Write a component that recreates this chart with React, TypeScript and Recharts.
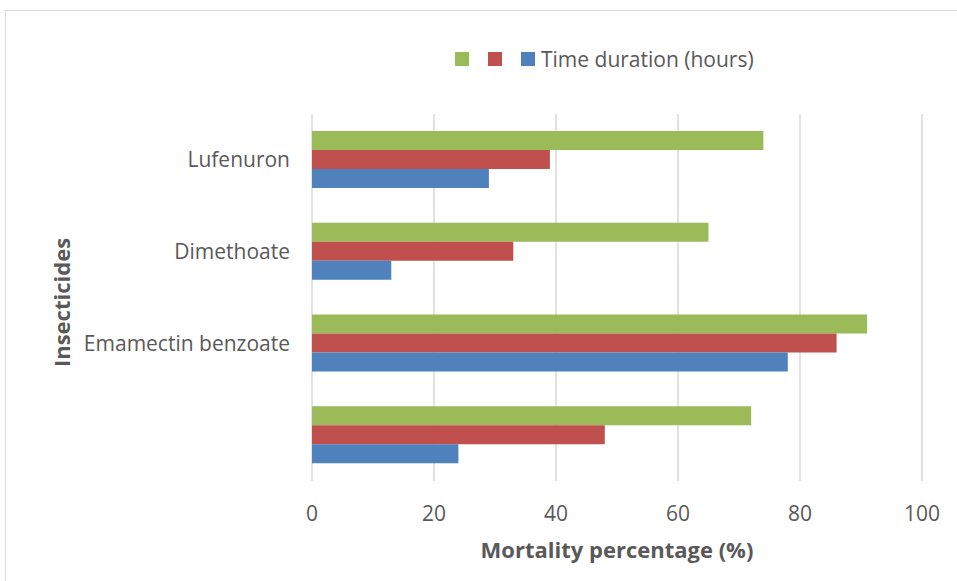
import React from 'react';
import { BarChart, Bar, XAxis, YAxis, CartesianGrid, Legend } from 'recharts';

const insecticides = ['Lufenuron', 'Dimethoate', 'Emamectin benzoate', ''];
const seriesGreen = [74, 65, 91, 72];
const seriesRed = [39, 33, 86, 48];
const seriesBlue = [29, 13, 78, 24];
const xTicks = [0, 20, 40, 60, 80, 100];
const seriesColors = ['#9BBB59', '#C0504D', '#4F81BD'];
const legendLabels = ['', '', 'Time duration (hours)'];

const data = insecticides.map((name, i) => ({
  name,
  green: seriesGreen[i],
  red: seriesRed[i],
  blue: seriesBlue[i],
}));

const FONT = '"Open Sans", Lato, sans-serif';
const TEXT = '#595959';

// legend drawn from our own arrays so the order stays green, red, blue
const LegendContent = () => (
  <div style={{ display: 'flex', alignItems: 'center', fontFamily: FONT, fontSize: 21, color: TEXT }}>
    {seriesColors.map((color, i) => (
      <div key={`leg-${i}`} style={{ display: 'flex', alignItems: 'center', marginRight: legendLabels[i] ? 0 : 19 }}>
        <span style={{ display: 'inline-block', width: 14, height: 14, background: color }} />
        {legendLabels[i] ? <span style={{ marginLeft: 6 }}>{legendLabels[i]}</span> : null}
      </div>
    ))}
  </div>
);

const YTitle = ({ viewBox }: any) => {
  const cx = 61;
  const cy = viewBox.y + viewBox.height / 2 + 5;
  return (
    <text
      x={cx}
      y={cy}
      transform={`rotate(-90, ${cx}, ${cy})`}
      textAnchor="middle"
      dominantBaseline="central"
      fill={TEXT}
      fontFamily={FONT}
      fontSize={22}
      fontWeight="bold"
    >
      Insecticides
    </text>
  );
};

const App: React.FC = () => {
  return (
    <div style={{ position: 'absolute', left: 0, top: 0, width: 957, height: 581, background: '#fff' }}>
      <div
        style={{
          position: 'absolute',
          left: 5,
          top: 10,
          width: 970,
          height: 590,
          border: '1px solid #d9d9d9',
        }}
      />
      <BarChart
        width={957}
        height={581}
        data={data}
        layout="vertical"
        margin={{ top: 114, right: 35, left: 0, bottom: 0 }}
        barGap={0}
        barSize={19}
        style={{ position: 'absolute', left: 0, top: 0 }}
      >
        <CartesianGrid horizontal={false} stroke="#d9d9d9" strokeWidth={1.5} />
        <XAxis
          type="number"
          domain={[0, 100]}
          ticks={xTicks}
          height={100}
          axisLine={false}
          tickLine={false}
          tickSize={0}
          tickMargin={25}
          tick={{ fontSize: 21, fill: TEXT, fontFamily: FONT }}
          label={{
            value: 'Mortality percentage (%)',
            position: 'insideBottom',
            offset: 23,
            fill: TEXT,
            fontSize: 22,
            fontWeight: 'bold',
            fontFamily: FONT,
          }}
        />
        <YAxis
          type="category"
          dataKey="name"
          width={312}
          axisLine={false}
          tickLine={false}
          tickSize={0}
          tickMargin={22}
          interval={0}
          tick={{ fontSize: 21, fill: TEXT, fontFamily: FONT }}
          label={<YTitle />}
        />
        <Legend
          layout="horizontal"
          verticalAlign="middle"
          align="center"
          content={<LegendContent />}
          wrapperStyle={{ position: 'absolute', top: 45, left: 455, width: 'auto' }}
        />
        <Bar dataKey="green" fill={seriesColors[0]} isAnimationActive={false} />
        <Bar dataKey="red" fill={seriesColors[1]} isAnimationActive={false} />
        <Bar dataKey="blue" fill={seriesColors[2]} isAnimationActive={false} />
      </BarChart>
    </div>
  );
};

export default App;
